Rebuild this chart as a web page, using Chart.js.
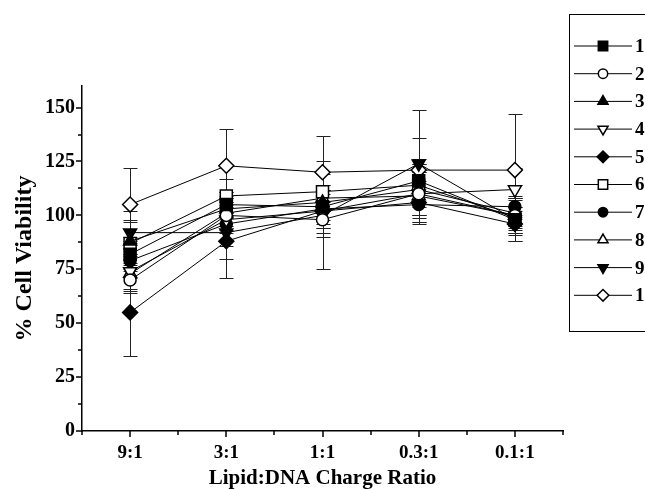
<!DOCTYPE html>
<html>
<head>
<meta charset="utf-8">
<script src="https://cdn.jsdelivr.net/npm/chart.js@4"></script>
<style>
  html, body { margin: 0; padding: 0; background: #fff; }
  #chart { display: block; }
</style>
</head>
<body>
<canvas id="chart" width="645" height="489"></canvas>
<script>
// Datos
const categories = ["9:1", "3:1", "1:1", "0.3:1", "0.1:1"];
const seriesNames = ["1", "2", "3", "4", "5", "6", "7", "8", "9", "10"];
const yTicks = [0, 25, 50, 75, 100, 125, 150];

const values1 = [82, 105, 104, 116, 98];
const values2 = [70, 100, 98, 110, 100];
const values3 = [88, 103, 106, 112, 101];
const values4 = [74, 98, 102, 110, 112];
const values5 = [55, 88, 102, 106, 96];
const values6 = [87, 109, 111, 114, 99];
const values7 = [79, 96, 103, 105, 104];
const values8 = [73, 101, 108, 109, 100];
const values9 = [92, 92, 100, 124, 98];
const values10 = [105, 123, 120, 121, 121];

const errors1 = [8, 6, 8, 10, 6];
const errors2 = [6, 8, 8, 10, 8];
const errors3 = [10, 8, 8, 12, 8];
const errors4 = [8, 10, 8, 10, 10];
const errors5 = [20, 17, 10, 10, 8];
const errors6 = [10, 8, 8, 10, 8];
const errors7 = [8, 10, 9, 8, 10];
const errors8 = [8, 8, 6, 12, 8];
const errors9 = [10, 12, 25, 25, 10];
const errors10 = [17, 17, 17, 15, 26];

const allValues = [values1, values2, values3, values4, values5, values6, values7, values8, values9, values10];
const allErrors = [errors1, errors2, errors3, errors4, errors5, errors6, errors7, errors8, errors9, errors10];

// Estilo de cada marcador: forma, relleno, rotación, radio
const markers = [
    { style: "rect", fill: "#000", rot: 0, r: 8.5 },
    { style: "circle", fill: "#fff", rot: 0, r: 6 },
    { style: "triangle", fill: "#000", rot: 0, r: 7.5 },
    { style: "triangle", fill: "#fff", rot: 180, r: 7.5 },
    { style: "rectRot", fill: "#000", rot: 0, r: 7.5 },
    { style: "rect", fill: "#fff", rot: 0, r: 8.5 },
    { style: "circle", fill: "#000", rot: 0, r: 6 },
    { style: "triangle", fill: "#fff", rot: 0, r: 7.5 },
    { style: "triangle", fill: "#000", rot: 180, r: 7.5 },
    { style: "rectRot", fill: "#fff", rot: 0, r: 7.5 },
];

const FONT = "'Liberation Serif', 'Times New Roman', serif";

// Barras de error (antes de dibujar los puntos)
const errorBarsPlugin = {
    id: "errorBars",
    beforeDatasetsDraw(chart) {
        const ctx = chart.ctx;
        const xScale = chart.scales.x;
        const yScale = chart.scales.y;
        ctx.save();
        ctx.strokeStyle = "#222";
        ctx.lineWidth = 1;
        allValues.forEach((vals, s) => {
            vals.forEach((v, i) => {
                const e = allErrors[s][i];
                const x = Math.round(xScale.getPixelForValue(i)) + 0.5;
                const yTop = Math.round(yScale.getPixelForValue(v + e)) + 0.5;
                const yBot = Math.round(yScale.getPixelForValue(v - e)) + 0.5;
                ctx.beginPath();
                ctx.moveTo(x, yTop);
                ctx.lineTo(x, yBot);
                ctx.moveTo(x - 7, yTop);
                ctx.lineTo(x + 7, yTop);
                ctx.moveTo(x - 7, yBot);
                ctx.lineTo(x + 7, yBot);
                ctx.stroke();
            });
        });
        ctx.restore();
    }
};

// Marcas de los ejes (mayores y menores) hacia afuera
const axisTicksPlugin = {
    id: "axisTicks",
    afterDraw(chart) {
        const ctx = chart.ctx;
        const xScale = chart.scales.x;
        const yScale = chart.scales.y;
        const area = chart.chartArea;
        ctx.save();
        ctx.strokeStyle = "#000";
        ctx.lineWidth = 1.5;
        ctx.beginPath();
        for (let v = 0; v <= 150; v += 12.5) {
            const y = Math.round(yScale.getPixelForValue(v));
            const len = v % 25 === 0 ? 6 : 4;
            ctx.moveTo(area.left, y);
            ctx.lineTo(area.left - len, y);
        }
        const step = xScale.getPixelForValue(1) - xScale.getPixelForValue(0);
        for (let i = -0.5; i <= categories.length - 0.5; i += 0.5) {
            const x = Math.round(xScale.getPixelForValue(0) + i * step);
            const len = Number.isInteger(i) ? 6 : 4;
            ctx.moveTo(x, area.bottom);
            ctx.lineTo(x, area.bottom + len);
        }
        ctx.stroke();
        ctx.restore();
    }
};

// Leyenda con marco a la derecha
const legendBoxPlugin = {
    id: "legendBox",
    afterDraw(chart) {
        const ctx = chart.ctx;
        ctx.save();
        ctx.strokeStyle = "#000";
        ctx.lineWidth = 1;
        ctx.strokeRect(569.5, 14.5, 100, 317);
        seriesNames.forEach((name, s) => {
            const y = 46 + s * 27.7;
            const m = markers[s];
            ctx.beginPath();
            ctx.lineWidth = 1;
            ctx.moveTo(574, y);
            ctx.lineTo(632, y);
            ctx.stroke();
            ctx.fillStyle = m.fill;
            ctx.strokeStyle = "#000";
            ctx.lineWidth = 1.5;
            Chart.helpers.drawPoint(ctx, {
                pointStyle: m.style,
                rotation: m.rot,
                radius: m.r * 0.78,
                borderWidth: 1.5
            }, 603, y);
            ctx.fillStyle = "#000";
            ctx.font = "bold 19px " + FONT;
            ctx.textAlign = "left";
            ctx.textBaseline = "middle";
            ctx.fillText(name, 635, y + 1);
        });
        ctx.restore();
    }
};

const datasets = allValues.map((vals, s) => ({
    label: seriesNames[s],
    data: vals,
    borderColor: "#000",
    borderWidth: 1,
    tension: 0,
    pointStyle: markers[s].style,
    pointRotation: markers[s].rot,
    pointRadius: markers[s].r,
    pointHoverRadius: markers[s].r,
    pointBackgroundColor: markers[s].fill,
    pointBorderColor: "#000",
    pointBorderWidth: 1.5
}));

const chartInstance = new Chart(document.getElementById("chart").getContext("2d"), {
    type: "line",
    data: { labels: categories, datasets: datasets },
    plugins: [errorBarsPlugin, axisTicksPlugin, legendBoxPlugin],
    options: {
        responsive: false,
        animation: false,
        devicePixelRatio: 1,
        layout: { padding: { left: 0, right: 82, top: 86, bottom: 0 } },
        plugins: { legend: { display: false }, tooltip: { enabled: false } },
        scales: {
            x: {
                type: "category",
                offset: true,
                grid: { display: false, drawTicks: false },
                border: { display: true, color: "#000", width: 1.5 },
                ticks: { color: "#000", font: { family: FONT, size: 19, weight: "bold" }, padding: 11 },
                title: {
                    display: true,
                    text: "Lipid:DNA Charge Ratio",
                    color: "#000",
                    font: { family: FONT, size: 21, weight: "bold", lineHeight: 1 },
                    padding: { top: 0, bottom: 0 }
                },
                afterFit(scale) { scale.height = 58; }
            },
            y: {
                min: 0,
                max: 160,
                grid: { display: false, drawTicks: false },
                border: { display: true, color: "#000", width: 1.5 },
                ticks: { color: "#000", font: { family: FONT, size: 20, weight: "bold" }, padding: 7 },
                afterBuildTicks(scale) { scale.ticks = yTicks.map(v => ({ value: v })); },
                title: {
                    display: true,
                    text: "% Cell Viability",
                    color: "#000",
                    font: { family: FONT, size: 24, weight: "bold", lineHeight: 1.2 },
                    padding: { top: 10, bottom: 0 }
                },
                afterFit(scale) { scale.width = 82; }
            }
        }
    }
});
</script>
</body>
</html>
